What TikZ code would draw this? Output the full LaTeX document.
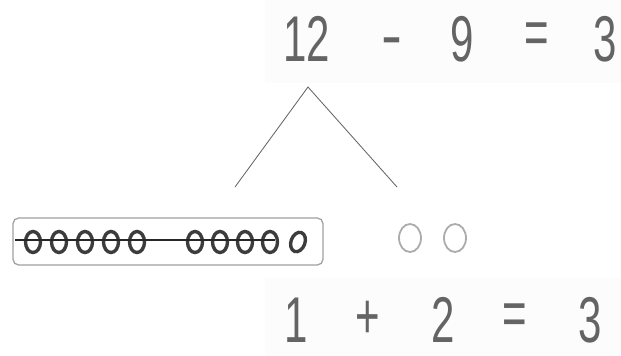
\documentclass[tikz,border=0pt]{standalone}
\usepackage{fontspec}
\usepackage{tikz}
\usetikzlibrary{positioning,calc}
\newfontfamily\handfont[FakeStretch=0.65]{Liberation Sans}
\definecolor{chalk}{RGB}{100,100,100}
\definecolor{bead}{RGB}{60,60,60}
\definecolor{paper}{RGB}{252,252,252}

\begin{document}
\begin{tikzpicture}[x=0.025cm, y=-0.025cm,
    eqtok/.style={text=chalk, inner sep=0pt, font=\handfont\fontsize{46}{50}\selectfont},
    beadring/.style={draw=bead, line width=2.4pt},
    loosering/.style={draw=gray!65, line width=1.3pt}]
        \useasboundingbox (0,0) rectangle (621,356);
        % faint paper behind the equations
        \fill[paper] (265,0) rectangle (621,83);
        \fill[paper] (265,278) rectangle (621,356);
        % 12 - 9 = 3
        \node[eqtok] (twelve) at (307,39) {12};
        \node[eqtok] (minus) at (392,48) {\scalebox{1.5}[1]{-}};
        \node[eqtok] (nine) at (462,39) {9};
        \node[eqtok] (eqa) at (537,39) {=};
        \node[eqtok] (three) at (605,39) {3};
        % split of the 12
        \coordinate (apex) at (308,87);
        \coordinate (leftleg) at (235,187);
        \coordinate (rightleg) at (397,187);
        \draw[chalk, line width=0.6pt] (leftleg) -- (apex) -- (rightleg);
        % ten in the box
        \node[draw=gray!75, line width=0.9pt, rounded corners=4pt, minimum width=310*0.025cm,
              minimum height=47*0.025cm, inner sep=0pt] (tenbox) at (168,241.5) {};
        \foreach \px in {33,59,85,111,137,195,220,245,270} {
          \draw[beadring] (\px,242) ellipse (7.5 and 10.5);
        }
        \draw[beadring, rotate around={-20:(298,242)}] (298,242) ellipse (7 and 10);
        \draw[black!85, line width=1.3pt] ($(tenbox.west)+(3,-1.5)$) -- ($(tenbox.west)+(263,-1.5)$);
        % the two left over
        \draw[loosering] (410,238) ellipse (11 and 14);
        \draw[loosering] (455,238) ellipse (11 and 14);
        % 1 + 2 = 3
        \node[eqtok] (one) at (296,320) {1};
        \node[eqtok] (plus) at (368,320) {+};
        \node[eqtok] (two) at (443,320) {2};
        \node[eqtok] (eqb) at (515,320) {=};
        \node[eqtok] (threeb) at (590,320) {3};
      \end{tikzpicture}
\end{document}
